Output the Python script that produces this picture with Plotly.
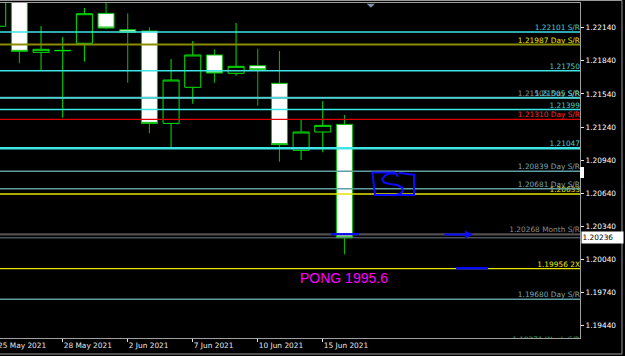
import plotly.graph_objects as go

# ---------------- data ----------------
dates = ["25 May 2021", "26 May 2021", "27 May 2021", "28 May 2021", "31 May 2021",
         "1 Jun 2021", "2 Jun 2021", "3 Jun 2021", "4 Jun 2021", "7 Jun 2021",
         "8 Jun 2021", "9 Jun 2021", "10 Jun 2021", "11 Jun 2021", "14 Jun 2021",
         "15 Jun 2021", "16 Jun 2021"]
opens  = [1.22153, 1.22480, 1.21917, 1.21931, 1.21999, 1.22270, 1.22122, 1.22110, 1.21273,
          1.21600, 1.21893, 1.21727, 1.21796, 1.21636, 1.21029, 1.21195, 1.21264]
highs  = [1.22600, 1.22560, 1.22155, 1.22056, 1.22319, 1.22540, 1.22270, 1.22144, 1.21856,
          1.22019, 1.21944, 1.22183, 1.21950, 1.21929, 1.21313, 1.21476, 1.21349]
lows   = [1.22100, 1.21817, 1.21757, 1.21324, 1.21832, 1.22125, 1.21641, 1.21183, 1.21041,
          1.21451, 1.21641, 1.21705, 1.21433, 1.20925, 1.20941, 1.21011, 1.20086]
closes = [1.22450, 1.21926, 1.21944, 1.21934, 1.22267, 1.22137, 1.22098, 1.21273, 1.21666,
          1.21893, 1.21729, 1.21790, 1.21759, 1.21080, 1.21195, 1.21255, 1.20236]

level_prices = [1.22101, 1.21987, 1.21750, 1.21505, 1.21505, 1.21399, 1.21310, 1.21047,
                1.20839, 1.20681, 1.20633, 1.20268, 1.19956, 1.19680, 1.19271]
level_labels = ["1.22101 S/R", "1.21987 Day S/R", "1.21750", "1.21505 Day S/R", "1.21505 S/R",
                "1.21399", "1.21310 Day S/R", "1.21047", "1.20839 Day S/R", "1.20681 Day S/R",
                "1.20633", "1.20268 Month S/R", "1.19956 2X", "1.19680 Day S/R",
                "1.19271 Week S/R"]
level_kinds = ["sr", "day_y", "sr", "day_g", "sr", "sr", "day_r", "sr_thick", "day", "day",
               "y", "month", "y", "day", "week"]

bid_price = 1.20236
y_ticks = [1.19440, 1.19740, 1.20040, 1.20340, 1.20640, 1.20940, 1.21240, 1.21540,
           1.21840, 1.22140]
date_tick_idx = [0, 3, 6, 9, 12, 15]

note_text = "PONG 1995.6"
note_x, note_y = 16, 1.19869

# user drawings (data units: bar index, price)
blue_seg1_x, blue_seg1_y = [15.37, 16.69], [1.20270, 1.20270]
blue_seg2_x, blue_seg2_y = [21.15, 22.63], [1.19959, 1.19959]
arrow_from, arrow_to, arrow_y = 20.55, 21.93, 1.20267
box_x = [18.33, 17.29, 17.41, 19.21, 19.21, 18.90, 18.50]
box_y = [1.20829, 1.20829, 1.20624, 1.20624, 1.20808, 1.20815, 1.20825]
s_x = [18.47, 18.40, 18.29, 18.06, 17.87, 17.73, 17.83, 18.10, 18.43, 18.66, 18.70, 18.57, 18.24]
s_y = [1.20790, 1.20815, 1.20819, 1.20819, 1.20800, 1.20769, 1.20737, 1.20723, 1.20714,
       1.20692, 1.20660, 1.20633, 1.20619]

# ---------------- styles ----------------
styles = {
    "sr":       dict(line="#3fe4e4", width=1.3, text="#4cc9c9"),
    "sr_thick": dict(line="#3fe4e4", width=2.4, text="#4cc9c9"),
    "day_y":    dict(line="#8c8c00", width=2.0, text="#e8e800"),
    "day_g":    dict(line="#5f9ea0", width=2.0, text="#8a9494"),
    "day":      dict(line="#5f9ea0", width=1.5, text="#7ba4ac"),
    "day_r":    dict(line="#e00000", width=1.3, text="#ff2a2a"),
    "y":        dict(line="#e6e600", width=1.3, text="#e8e800"),
    "month":    dict(line="#4f4f4f", width=2.2, text="#8c8c8c"),
    "week":     dict(line="#3c9a6c", width=1.0, text="#3c9a6c"),
}
FONT = "DejaVu Sans"
FS = 7.4
BLUE = "#0a0aff"
x_idx = list(range(len(dates)))
X_RANGE = [0.106, 26.87]


def path_of(xs, ys):
    return "M " + " L ".join(f"{a},{b}" for a, b in zip(xs, ys))


fig = go.Figure()

fig.add_trace(go.Candlestick(
    x=x_idx, open=opens, high=highs, low=lows, close=closes,
    increasing=dict(line=dict(color="#00e600", width=1), fillcolor="#000000"),
    decreasing=dict(line=dict(color="#00c000", width=1), fillcolor="#ffffff"),
    whiskerwidth=0, hoverinfo="skip", showlegend=False,
))

# level lines
for p, k in zip(level_prices, level_kinds):
    st = styles[k]
    fig.add_shape(type="line", xref="paper", x0=0, x1=1, yref="y", y0=p, y1=p,
                  line=dict(color=st["line"], width=st["width"]), layer="above")
# bid line
fig.add_shape(type="line", xref="paper", x0=0, x1=1, yref="y", y0=bid_price, y1=bid_price,
              line=dict(color="#6a7c86", width=1), layer="above")

# level labels (text on an overlay x axis spanning the plot width)
fig.add_trace(go.Scatter(
    x=[1] * len(level_prices), y=level_prices, xaxis="x2", mode="text",
    text=level_labels, textposition="top left",
    textfont=dict(family=FONT, size=FS, color=[styles[k]["text"] for k in level_kinds]),
    hoverinfo="skip", showlegend=False, cliponaxis=True,
))

# blue drawings (shapes so they sit above the level lines)
for xs, ys, w in [(blue_seg1_x, blue_seg1_y, 2), (blue_seg2_x, blue_seg2_y, 2.5),
                  (box_x, box_y, 2), (s_x, s_y, 2)]:
    fig.add_shape(type="path", xref="x", yref="y", path=path_of(xs, ys),
                  line=dict(color=BLUE, width=w), layer="above")

fig.add_annotation(x=arrow_to, y=arrow_y, ax=arrow_from, ay=arrow_y, axref="x", ayref="y",
                   xref="x", yref="y", text="", showarrow=True, arrowhead=2, arrowsize=0.8,
                   arrowwidth=2, arrowcolor=BLUE)

fig.add_annotation(x=note_x, y=note_y, xref="x", yref="y", text=note_text, showarrow=False,
                   font=dict(family="Liberation Sans", size=14, color="#ff00ff"))

# first date label (its tick sits just left of the visible range)
first_px = (date_tick_idx[0] - X_RANGE[0]) / (X_RANGE[1] - X_RANGE[0])
fig.add_annotation(x=first_px, y=0, xref="paper", yref="paper", text=dates[0],
                   showarrow=False, xanchor="left", yanchor="top", yshift=-1, xshift=-2,
                   font=dict(family=FONT, size=FS, color="#e6e6e6"))

# current price box
fig.add_annotation(x=1.0017, y=bid_price, xref="paper", yref="y",
                   text=f"{bid_price:.5f}", showarrow=False, xanchor="left",
                   bgcolor="#ffffff", width=40, height=10, borderpad=0.5, align="left",
                   font=dict(family=FONT, size=FS, color="#000000"))

# chart decorations
fig.add_shape(type="path", xref="paper", yref="paper",
              path="M 0.6322 0.9975 L 0.6466 0.9975 L 0.6394 0.9855 Z",
              fillcolor="#8090aa", line=dict(width=0))
fig.add_shape(type="rect", xref="paper", yref="paper", x0=1.0, x1=1.0069, y0=0.4776, y1=0.5104,
              fillcolor="#ffffff", line=dict(width=0))
fig.add_shape(type="rect", xref="paper", yref="paper", x0=-0.01, x1=1.0724, y0=-0.0478,
              y1=1.0075, line=dict(color="#9a9a9a", width=1))

fig.update_layout(
    width=625, height=356,
    margin=dict(l=0, r=45, t=3, b=18),
    paper_bgcolor="#000000", plot_bgcolor="#000000",
    showlegend=False,
    boxgap=0.13, boxgroupgap=0.15,
    xaxis=dict(range=X_RANGE, rangeslider=dict(visible=False),
               tickmode="array", tickvals=date_tick_idx[1:],
               ticktext=[dates[i] for i in date_tick_idx[1:]],
               ticks="outside", ticklen=3, tickcolor="#e6e6e6",
               ticklabelposition="outside right",
               tickfont=dict(family=FONT, size=FS, color="#e6e6e6"),
               showline=True, mirror=True, linecolor="#a0a0a0", linewidth=1,
               showgrid=False, zeroline=False),
    xaxis2=dict(overlaying="x", range=[0, 1], visible=False),
    yaxis=dict(side="right", range=[1.19328, 1.22364], tickmode="array", tickvals=y_ticks,
               ticktext=[f"{v:.5f}" for v in y_ticks], ticks="outside", ticklen=3,
               tickcolor="#e6e6e6", tickfont=dict(family=FONT, size=FS, color="#ffffff"),
               showline=True, linecolor="#a0a0a0", linewidth=1,
               showgrid=False, zeroline=False),
)

fig.write_html("out.html")
